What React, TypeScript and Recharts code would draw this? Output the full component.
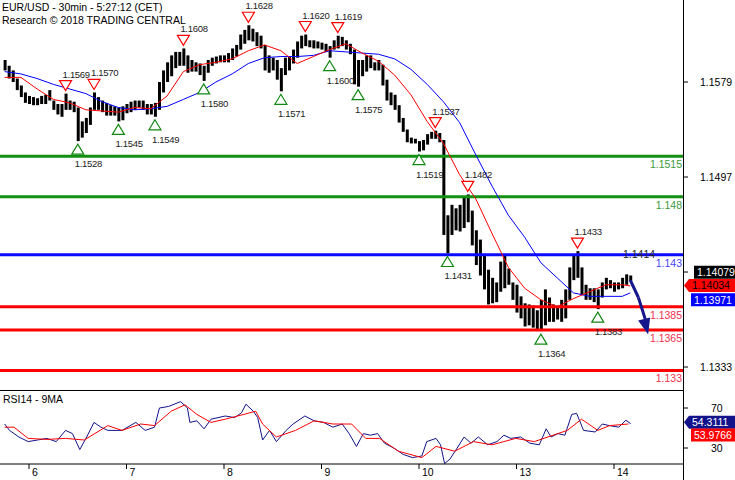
import React from 'react';
import {
  ComposedChart,
  Bar,
  Line,
  XAxis,
  YAxis,
  ReferenceLine,
  ReferenceDot,
} from 'recharts';

const FONT = "'Liberation Sans', Arial, sans-serif";

// x values are hours counted from the 6th, 00:00 CET; one bar per hour
const FIRST_HOUR = -6;

// hourly highs / lows of EUR/USD, 5th evening .. 14th morning
const highs = [
  1.1598, 1.1593, 1.1589, 1.1582, 1.1576, 1.1570,
  // 6th
  1.1567, 1.1566, 1.1565, 1.1567, 1.1568, 1.1572, 1.1563, 1.1560, 1.1560, 1.1569,
  1.1563, 1.1562, 1.1557, 1.1545, 1.1548, 1.1557, 1.1570, 1.1566, 1.1563, 1.1561,
  1.1559, 1.1558, 1.1557, 1.1558,
  // 7th
  1.1560, 1.1562, 1.1563, 1.1563, 1.1563, 1.1560, 1.1560, 1.1561, 1.1579, 1.1589,
  1.1596, 1.1602, 1.1605, 1.1605, 1.1608, 1.1602, 1.1598, 1.1596, 1.1595, 1.1593,
  1.1598, 1.1600, 1.1601, 1.1602,
  // 8th
  1.1602, 1.1604, 1.1608, 1.1611, 1.1620, 1.1624, 1.1628, 1.1625, 1.1622, 1.1619,
  1.1611, 1.1602, 1.1600, 1.1598, 1.1591, 1.1600, 1.1601, 1.1607, 1.1614, 1.1619,
  1.1620, 1.1615, 1.1615, 1.1614,
  // 9th
  1.1613, 1.1612, 1.1610, 1.1615, 1.1619, 1.1618, 1.1615, 1.1612, 1.1607, 1.1598,
  1.1598, 1.1602, 1.1602, 1.1596, 1.1598, 1.1594, 1.1581, 1.1570, 1.1568, 1.1559,
  1.1548, 1.1538, 1.1531, 1.1530,
  // 10th
  1.1528, 1.1529, 1.1534, 1.1536, 1.1537, 1.1535, 1.1529, 1.1464, 1.1473, 1.1470,
  1.1473, 1.1479, 1.1482, 1.1468, 1.1451, 1.1443, 1.1430, 1.1417, 1.1410, 1.1406,
  1.1424, 1.1430, 1.1418, 1.1406,
  // 13th
  1.1404, 1.1394, 1.1388, 1.1387, 1.1386, 1.1382, 1.1391, 1.1400, 1.1393, 1.1387,
  1.1385, 1.1391, 1.1400, 1.1419, 1.1430, 1.1433, 1.1419, 1.1404, 1.1401, 1.1401,
  1.1400, 1.1406, 1.1410, 1.1408,
  // 14th
  1.1406, 1.1406, 1.1410, 1.1413, 1.1412,
];

const lows = [
  1.1589, 1.1582, 1.1579, 1.1572, 1.1566, 1.1561,
  // 6th
  1.1560, 1.1559, 1.1559, 1.1560, 1.1560, 1.1563, 1.1555, 1.1551, 1.1549, 1.1555,
  1.1555, 1.1553, 1.1528, 1.1531, 1.1535, 1.1542, 1.1555, 1.1555, 1.1553, 1.1550,
  1.1550, 1.1550, 1.1545, 1.1546,
  // 7th
  1.1552, 1.1553, 1.1555, 1.1557, 1.1555, 1.1551, 1.1551, 1.1549, 1.1555, 1.1570,
  1.1579, 1.1584, 1.1591, 1.1593, 1.1593, 1.1587, 1.1588, 1.1588, 1.1585, 1.1580,
  1.1587, 1.1593, 1.1595, 1.1596,
  // 8th
  1.1596, 1.1596, 1.1598, 1.1601, 1.1607, 1.1612, 1.1615, 1.1614, 1.1610, 1.1608,
  1.1589, 1.1587, 1.1589, 1.1581, 1.1571, 1.1585, 1.1589, 1.1595, 1.1600, 1.1608,
  1.1610, 1.1609, 1.1608, 1.1608,
  // 9th
  1.1607, 1.1605, 1.1600, 1.1607, 1.1608, 1.1610, 1.1607, 1.1603, 1.1577, 1.1575,
  1.1584, 1.1588, 1.1591, 1.1589, 1.1589, 1.1576, 1.1563, 1.1559, 1.1555, 1.1544,
  1.1536, 1.1527, 1.1526, 1.1526,
  // 10th
  1.1519, 1.1520, 1.1525, 1.1530, 1.1530, 1.1527, 1.1447, 1.1431, 1.1447, 1.1451,
  1.1450, 1.1453, 1.1458, 1.1438, 1.1421, 1.1412, 1.1400, 1.1387, 1.1388, 1.1389,
  1.1398, 1.1401, 1.1404, 1.1391,
  // 13th
  1.1380, 1.1375, 1.1368, 1.1369, 1.1367, 1.1365, 1.1364, 1.1369, 1.1372, 1.1372,
  1.1374, 1.1372, 1.1375, 1.1391, 1.1408, 1.1410, 1.1395, 1.1391, 1.1391, 1.1389,
  1.1383, 1.1393, 1.1400, 1.1401,
  // 14th
  1.1398, 1.1400, 1.1401, 1.1404, 1.1407,
];

// moving averages, read every 4 hours
const maHours = [
  -6, -2, 2, 6, 10, 14, 18, 22, 26, 30, 34, 38, 42, 46, 50, 54, 58, 62, 66, 70,
  74, 78, 82, 86, 90, 94, 98, 102, 106, 110, 114, 118, 122, 126, 130, 134, 138, 142, 146, 148,
];
const redMa = [
  1.1583, 1.1583, 1.1573, 1.1564, 1.1561, 1.1555, 1.1554, 1.1553, 1.1557, 1.1556,
  1.1567, 1.1588, 1.1594, 1.1596, 1.1599, 1.1606, 1.1611, 1.1606, 1.1595, 1.1601,
  1.1607, 1.1612, 1.1604, 1.1597, 1.1585, 1.1568, 1.1545, 1.1526, 1.1499, 1.1478,
  1.1448, 1.1419, 1.1401, 1.1391, 1.1385, 1.1392, 1.1398, 1.1404, 1.1404, 1.1403,
];
const blueMa = [
  1.1588, 1.1586, 1.1582, 1.1577, 1.1573, 1.1569, 1.1562, 1.1557, 1.1555, 1.1556,
  1.1558, 1.1564, 1.1570, 1.1579, 1.1586, 1.1595, 1.1600, 1.1601, 1.1601, 1.1602,
  1.1606, 1.1605, 1.1604, 1.1603, 1.1599, 1.1590, 1.1577, 1.1562, 1.1544, 1.1516,
  1.1489, 1.1464, 1.1445, 1.1423, 1.1410, 1.1397, 1.1394, 1.1394, 1.1394, 1.1397,
];

// swing highs / lows
const peakHours = [9, 16, 38, 54, 68, 76, 100, 108, 135];
const peakPrices = [1.1569, 1.157, 1.1608, 1.1628, 1.162, 1.1619, 1.1537, 1.1482, 1.1433];
const troughHours = [12, 22, 31, 43, 62, 74, 81, 96, 103, 126, 140];
const troughPrices = [1.1528, 1.1545, 1.1549, 1.158, 1.1571, 1.16, 1.1575, 1.1519, 1.1431, 1.1364, 1.1383];

// key levels
const levelPrices = [1.1515, 1.148, 1.143, 1.1385, 1.1365, 1.133];
const levelLabels = ['1.1515', '1.148', '1.143', '1.1385', '1.1365', '1.133'];
const levelKinds = ['green', 'green', 'blue', 'red', 'red', 'red'];
const pivotLabel = '1.1414';
const pivotHour = 146.2;

// expected path
const forecastHours = [148, 150, 151.9];
const forecastPrices = [1.1408, 1.1393, 1.1372];
const forecastTip = { h: 152.4, price: 1.1361 };

// last values
const lastClose = 1.14079;
const lastRed = 1.14034;
const lastBlue = 1.13971;

// RSI(14) and its 9 period MA
const rsiHours = [
  -6, -4.8, -2.5, -0.2, 2.1, 4.4, 6.7, 9, 10.7, 12.5, 14.2, 16, 17.7, 19.4, 22.9, 26.3,
  28.6, 30.9, 32.1, 34.4, 37.3, 39, 39.6, 41.3, 43.1, 44.8, 48.3, 50.6, 52.3, 53.4, 55.2,
  56.3, 57.5, 59.2, 60.9, 63.3, 65, 67.9, 70.2, 72.5, 74.8, 77.1, 78.8, 80.6, 82.3, 84,
  85.8, 87.5, 89.8, 92.1, 94.4, 96.7, 97.9, 100.2, 101.3, 102.3, 103.6, 105.4, 107.1,
  108.8, 110.6, 112.9, 115.2, 116.9, 118.6, 121, 123.3, 125.6, 127.3, 128.5, 130.2,
  131.9, 133.6, 134.8, 136.5, 139.4, 141.1, 142.9, 145.2, 146.9, 148.1,
];
const rsiValues = [
  54, 47.6, 41, 36.4, 38, 39.6, 36.4, 47.6, 44.4, 28.4, 41, 55.6, 50.8, 47.6, 47.6, 55.6,
  47.6, 50.8, 70, 71.6, 76.4, 70, 55.6, 57.2, 49.2, 58.8, 62, 60.4, 65.2, 73.8, 66.8,
  60.4, 38, 47.6, 36.4, 47.6, 54, 62, 57.2, 55.6, 50.8, 54, 44.4, 31.6, 44.4, 42.8,
  44.4, 34.8, 30, 23.6, 20.4, 22, 36.4, 39.6, 33.2, 14.5, 18.8, 30, 41,
  34.8, 41, 33.2, 36.4, 42.8, 39.6, 41, 34.8, 33.2, 49.2, 41, 44.4,
  42.8, 63.6, 64.6, 47.6, 46, 54, 52.4, 50.8, 57.8, 54.3,
];
const rsiMaHours = [
  -6, -3.7, -0.2, 4.4, 9, 13.6, 19.4, 22.9, 27.5, 30.9, 35, 38.4, 41.3, 44.8, 48.3,
  52.9, 55.8, 57.5, 60.9, 65.6, 70.2, 74.8, 79.4, 82.9, 86.3, 90.9, 96.7, 100.2,
  104.8, 109.4, 114, 119.8, 124.4, 129, 132.5, 136, 140, 142.9, 147.5,
];
const rsiMaValues = [
  50.8, 50.8, 39.6, 38.6, 39.6, 38, 52.4, 47.6, 54, 52.4, 66.8, 73.2, 63.6, 55.6, 58.8,
  63.6, 66.8, 54, 41, 47.6, 57.2, 54, 54, 39.6, 39.6, 26.8, 20.4, 31.6,
  26.8, 36.4, 33.2, 39.6, 36.4, 42.8, 47.6, 58.8, 47.6, 52.4, 54,
];
const lastRsi = 54.3111;
const lastRsiMa = 53.9766;

// axes
const priceTicks = [1.1333, 1.1415, 1.1497, 1.1579];
const hiddenPriceTick = 1.1415; // its label sits under the value tags
const rsiTicks = [30, 70];
const dayStarts = [0, 24, 48, 72, 96, 120, 144];
const dayLabels = ['6', '7', '8', '9', '10', '13', '14'];

const X_DOMAIN: [number, number] = [-7.14, 160.98];
const PRICE_DOMAIN: [number, number] = [1.13123, 1.16498];
const RSI_DOMAIN: [number, number] = [14, 86];

const COLORS: Record<string, { line: string; text: string }> = {
  green: { line: '#119011', text: '#3c9a3c' },
  blue: { line: '#0a0aff', text: '#4646ff' },
  red: { line: '#ff0000', text: '#f2304c' },
};

const barRows = highs.map((hi, i) => ({ h: FIRST_HOUR + i, range: [lows[i], hi] }));
const redRows = maHours.map((h, i) => ({ h, v: redMa[i] }));
const blueRows = maHours.map((h, i) => ({ h, v: blueMa[i] }));
const rsiRows = rsiHours.map((h, i) => ({ h, v: rsiValues[i] }));
const rsiMaRows = rsiMaHours.map((h, i) => ({ h, v: rsiMaValues[i] }));

const peakShape = (label: string) => (p: any) => {
  const { cx, cy } = p;
  const top = cy - 13;
  return (
    <g>
      <polygon
        points={`${cx - 6},${top} ${cx + 6},${top} ${cx},${top + 10}`}
        fill="#fff"
        stroke="#ff0000"
        strokeWidth={1.2}
      />
      <text x={cx - 3} y={top - 3} fontSize={9.5} letterSpacing={-0.3} fill="#222" fontFamily={FONT}>
        {label}
      </text>
    </g>
  );
};

const troughShape = (label: string) => (p: any) => {
  const { cx, cy } = p;
  const tip = cy + 3;
  return (
    <g>
      <polygon
        points={`${cx},${tip} ${cx + 6},${tip + 10} ${cx - 6},${tip + 10}`}
        fill="#fff"
        stroke="#118811"
        strokeWidth={1.2}
      />
      <text x={cx - 3} y={tip + 23} fontSize={9.5} letterSpacing={-0.3} fill="#222" fontFamily={FONT}>
        {label}
      </text>
    </g>
  );
};

// value tag drawn in the right axis area
const tagShape =
  (label: string, fill: string, color: string, left: number, dy: number, arrow: boolean) =>
  (p: any) => {
    const { cx, cy } = p;
    const y = cy + dy;
    const x0 = cx + left;
    const path = arrow
      ? `M${cx + 1},${y} L${x0},${y - 6.5} L735,${y - 6.5} L735,${y + 6.5} L${x0},${y + 6.5} Z`
      : `M${x0},${y - 6.5} L735,${y - 6.5} L735,${y + 6.5} L${x0},${y + 6.5} Z`;
    return (
      <g>
        <path d={path} fill={fill} />
        <text x={x0 + 3} y={y + 4} fontSize={10.5} fill={color} fontFamily={FONT}>
          {label}
        </text>
      </g>
    );
  };

const levelLabel = (text: string, color: string) => (props: any) => {
  const vb = props.viewBox || {};
  return (
    <text
      x={(vb.x || 0) + (vb.width || 0) - 1}
      y={(vb.y || 0) + 12}
      textAnchor="end"
      fontSize={10.5}
      fill={color}
      fontFamily={FONT}
    >
      {text}
    </text>
  );
};

const DayTick = (props: any) => {
  const { x, y, payload } = props;
  const idx = dayStarts.indexOf(payload.value);
  return (
    <text x={x + 3} y={y + 5} fontSize={10.5} fill="#000" fontFamily={FONT}>
      {dayLabels[idx]}
    </text>
  );
};

export default function App() {
  return (
    <div style={{ position: 'relative', width: 735, height: 480, background: '#fff', fontFamily: FONT, overflow: 'hidden' }}>
      <style>{'body{margin:0}'}</style>
      <div style={{ position: 'absolute', top: 0 }}>
        <ComposedChart width={735} height={391} data={barRows} margin={{ top: 0, right: 0, bottom: 0, left: 0 }}>
          <XAxis dataKey="h" type="number" domain={X_DOMAIN} allowDataOverflow hide />
          <YAxis
            orientation="right"
            width={52}
            domain={PRICE_DOMAIN}
            allowDataOverflow
            ticks={priceTicks}
            interval={0}
            tickFormatter={(v: number) => (v === hiddenPriceTick ? '' : v.toFixed(4))}
            tick={{ fill: '#000', fontSize: 10.5, fontFamily: FONT }}
            tickSize={5}
            tickMargin={12}
            axisLine={false}
            tickLine={{ stroke: '#000' }}
          />
          {levelPrices.map((v, i) => (
            <ReferenceLine
              key={'lvl' + i}
              y={v}
              stroke={COLORS[levelKinds[i]].line}
              strokeWidth={3}
              label={levelLabel(levelLabels[i], COLORS[levelKinds[i]].text)}
            />
          ))}
          <Bar dataKey="range" fill="#000" barSize={3} isAnimationActive={false} />
          <Line data={blueRows} dataKey="v" stroke="#0000ff" strokeWidth={1} dot={false} activeDot={false} isAnimationActive={false} />
          <Line data={redRows} dataKey="v" stroke="#ff0000" strokeWidth={1} dot={false} activeDot={false} isAnimationActive={false} />
          {forecastHours.slice(1).map((h, i) => (
            <ReferenceLine
              key={'fc' + i}
              segment={[
                { x: forecastHours[i], y: forecastPrices[i] },
                { x: h, y: forecastPrices[i + 1] },
              ]}
              stroke="#16168c"
              strokeWidth={3}
            />
          ))}
          <ReferenceDot
            x={forecastTip.h}
            y={forecastTip.price}
            ifOverflow="visible"
            shape={(p: any) => (
              <polygon points={`${p.cx},${p.cy} ${p.cx - 10},${p.cy - 14} ${p.cx + 2},${p.cy - 17}`} fill="#16168c" />
            )}
          />
          {peakHours.map((h, i) => (
            <ReferenceDot key={'pk' + i} x={h} y={peakPrices[i]} ifOverflow="visible" shape={peakShape(peakPrices[i].toFixed(4))} />
          ))}
          {troughHours.map((h, i) => (
            <ReferenceDot key={'tr' + i} x={h} y={troughPrices[i]} ifOverflow="visible" shape={troughShape(troughPrices[i].toFixed(4))} />
          ))}
          <ReferenceDot
            x={pivotHour}
            y={levelPrices[2]}
            ifOverflow="visible"
            shape={(p: any) => (
              <text x={p.cx} y={p.cy + 3} fontSize={10.5} fill="#222" fontFamily={FONT}>
                {pivotLabel}
              </text>
            )}
          />
          <ReferenceDot x={X_DOMAIN[1]} y={lastClose} ifOverflow="visible" shape={tagShape(lastClose.toFixed(5), '#000', '#fff', 11, -8, false)} />
          <ReferenceDot x={X_DOMAIN[1]} y={lastRed} ifOverflow="visible" shape={tagShape(lastRed.toFixed(5), '#ff0000', '#000', 6, 0, true)} />
          <ReferenceDot x={X_DOMAIN[1]} y={lastBlue} ifOverflow="visible" shape={tagShape(lastBlue.toFixed(5), '#0000ff', '#fff', 8, 7, false)} />
        </ComposedChart>
      </div>

      <div style={{ position: 'absolute', top: 391 }}>
        <ComposedChart width={735} height={89} data={rsiRows} margin={{ top: 1, right: 0, bottom: 0, left: 0 }}>
          <XAxis
            dataKey="h"
            type="number"
            domain={X_DOMAIN}
            allowDataOverflow
            ticks={dayStarts}
            interval={0}
            height={16}
            tick={<DayTick />}
            tickSize={5}
            tickMargin={2}
            axisLine={{ stroke: '#000' }}
            tickLine={{ stroke: '#000' }}
          />
          <YAxis
            orientation="right"
            width={52}
            domain={RSI_DOMAIN}
            allowDataOverflow
            ticks={rsiTicks}
            interval={0}
            tick={{ fill: '#000', fontSize: 10.5, fontFamily: FONT }}
            tickSize={5}
            tickMargin={23}
            axisLine={false}
            tickLine={{ stroke: '#000' }}
          />
          <Line data={rsiRows} dataKey="v" stroke="#12128a" strokeWidth={1} dot={false} activeDot={false} isAnimationActive={false} />
          <Line data={rsiMaRows} dataKey="v" stroke="#ff0000" strokeWidth={1} dot={false} activeDot={false} isAnimationActive={false} />
          <ReferenceDot x={X_DOMAIN[1]} y={lastRsi} ifOverflow="visible" shape={tagShape(lastRsi.toFixed(4), '#12128a', '#fff', 6, -1.5, true)} />
          <ReferenceDot x={X_DOMAIN[1]} y={lastRsiMa} ifOverflow="visible" shape={tagShape(lastRsiMa.toFixed(4), '#ff0000', '#fff', 8, 11, false)} />
        </ComposedChart>
      </div>

      {/* panel frame */}
      <div style={{ position: 'absolute', left: 683, top: 0, width: 1, height: 480, background: '#000' }} />
      <div style={{ position: 'absolute', left: 0, top: 390, width: 683, height: 1, background: '#000' }} />

      <div style={{ position: 'absolute', left: 2, top: 1, fontSize: 10.5, lineHeight: '13px', color: '#000' }}>
        <div>EUR/USD - 30min - 5:27:12 (CET)</div>
        <div>Research © 2018 TRADING CENTRAL</div>
      </div>
      <div style={{ position: 'absolute', left: 3, top: 393, fontSize: 10.5, lineHeight: '13px', color: '#000' }}>
        RSI14 - 9MA
      </div>
    </div>
  );
}
